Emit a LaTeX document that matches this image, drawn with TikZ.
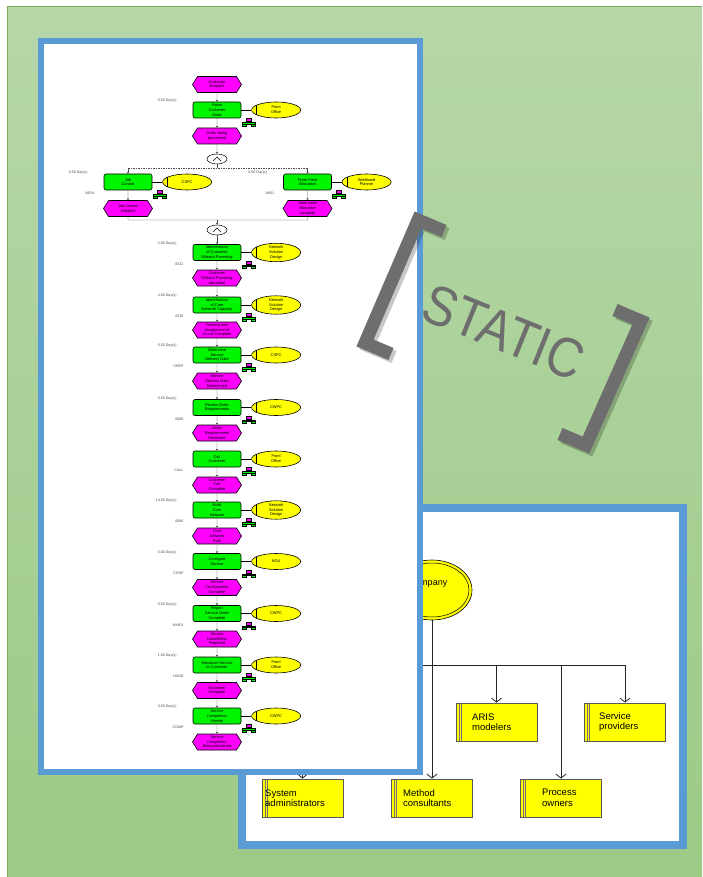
\documentclass[tikz,border=0pt]{standalone}
\usepackage{fontspec}
\setmainfont{Liberation Sans}
\usetikzlibrary{shapes.symbols,shapes.geometric,arrows.meta,calc}
\definecolor{bgtop}{HTML}{B6D7A8}
\definecolor{bgbot}{HTML}{9DCA87}
\definecolor{bgedge}{HTML}{78AD5C}
\definecolor{panelblue}{HTML}{5B9BD5}
\definecolor{evtc}{HTML}{FF00FF}
\definecolor{fnc}{HTML}{00F500}
\definecolor{orgy}{HTML}{FFFF00}
\definecolor{statgray}{HTML}{6E6E6E}
\tikzset{
 epctext/.style={font=\fontsize{3.9}{4.7}\selectfont},
 evt/.style={shape=signal, signal to=east and west, signal pointer angle=116, fill=evtc, draw=black, line width=0.6pt, minimum width=49pt, minimum height=16pt, inner sep=0pt, align=center, epctext},
 fn/.style={rectangle, rounded corners=2pt, fill=fnc, draw=black, line width=0.6pt, minimum width=48pt, minimum height=16pt, inner sep=0pt, align=center, epctext},
 orgunit/.style={ellipse, fill=orgy, draw=black, line width=0.6pt, minimum width=49pt, minimum height=16pt, inner sep=0pt, align=center, epctext,
   path picture={\draw[line width=0.5pt] ([xshift=5pt]path picture bounding box.north west) -- ([xshift=5pt]path picture bounding box.south west);}},
 gate/.style={ellipse, fill=white, draw=black, line width=0.5pt, minimum width=20pt, minimum height=10pt, inner sep=0pt},
 flow/.style={draw=gray!60!black, line width=0.4pt, -{Stealth[length=2pt,width=2.4pt]}},
 flowline/.style={draw=gray!60!black, line width=0.4pt},
 assign/.style={draw=black, line width=0.5pt},
 lbl/.style={font=\fontsize{3.6}{4.2}\selectfont, text=black!70, inner sep=0pt},
 obox/.style={rectangle, fill=orgy, draw=black!65, line width=0.8pt, minimum width=81pt, minimum height=38pt, inner sep=0pt,
   path picture={\draw[black!55, line width=0.4pt] ([xshift=3pt]path picture bounding box.north west) -- ([xshift=3pt]path picture bounding box.south west);
                 \draw[black!55, line width=0.4pt] ([xshift=4.8pt]path picture bounding box.north west) -- ([xshift=4.8pt]path picture bounding box.south west);}},
 otext/.style={font=\fontsize{9.5}{10.5}\selectfont, align=left, inner sep=0pt, anchor=west},
 oline/.style={draw=black!85, line width=0.8pt},
 oarrow/.style={draw=black!85, line width=0.8pt, -{Straight Barb[length=4pt,width=10pt,line width=0.8pt]}},
 orgicon/.pic={
   \draw[line width=0.3pt, fill=evtc] (4,0) rectangle (9,3);
   \draw[line width=0.3pt] (6.5,3) -- (6.5,4);
   \draw[line width=0.3pt, fill=fnc] (0,4) rectangle (13,5.5);
   \draw[line width=0.3pt, fill=fnc] (0,5.5) rectangle (4,7.5);
   \draw[line width=0.3pt, fill=fnc] (9,5.5) rectangle (13,7.5);
 }
}
\newcommand\epcfn[7]{%
 \node[fn] (#1) at (#2,#3) {#4};
 \node[orgunit, anchor=west] (#1o) at ($(#1.east)+(10,0)$) {#5};
 \draw[assign] (#1.east) -- (#1o.west);
 \pic at ([xshift=0.5pt]#1.south east) {orgicon};
 \node[lbl, anchor=east] (#1d) at ([xshift=-16pt,yshift=1pt]#1.north west) {#6};
 \node[lbl, anchor=east] (#1c) at ([xshift=-9pt,yshift=-3pt]#1.south west) {#7};
}
\begin{document}
\begin{tikzpicture}[x=1pt,y=-1pt]
\useasboundingbox (0,0) rectangle (702,877);
\fill[white] (0,0) rectangle (702,877);
% green background
\shade[top color=bgtop, bottom color=bgbot] (7,7) rectangle (702,877);
\draw[bgedge, line width=1pt] (7,877) -- (7,7) -- (702,7);

% ---------- right panel (org chart) ----------
\draw[panelblue, line width=8pt, fill=white] (242,508) rectangle (683,845);
\node[ellipse, fill=orgy, draw=black, line width=0.6pt, minimum width=80pt, minimum height=60pt, inner sep=0pt] (comp) at (432,590) {};
\draw[black, line width=0.5pt] (comp.center) ellipse (37 and 27);
\node[font=\fontsize{9}{10}\selectfont, inner sep=0pt] (compt) at (428,583) {Company};

\node[obox] (aris) at (496.5,722) {};
\node[obox] (serv) at (625,722) {};
\node[obox] (sys) at (302.5,798) {};
\node[obox] (meth) at (432,798) {};
\node[obox] (proc) at (561,798) {};
\node[otext] (arist) at (472,722) {ARIS\\modelers};
\node[otext] (servt) at (599,722) {Service\\providers};
\node[otext] (syst) at (265,798) {System\\administrators};
\node[otext] (metht) at (403,798) {Method\\consultants};
\node[otext] (proct) at (542,798) {Process\\owners};

\coordinate (hl) at (302.5,665);
\coordinate (ha) at (496.5,665);
\coordinate (hp) at (561,665);
\coordinate (hr) at (625,665);
\draw[oline] (hl) -- (hr);
\draw[oarrow] (comp.south) -- (meth.north);
\draw[oarrow] (hl) -- (sys.north);
\draw[oarrow] (ha) -- (aris.north);
\draw[oarrow] (hp) -- (proc.north);
\draw[oarrow] (hr) -- (serv.north);

% ---------- left panel (EPC) ----------
\draw[panelblue, line width=6pt, fill=white] (41,41) rectangle (420,772);

\node[evt] (e1) at (217,84.5) {Customer\\Request};
\epcfn{f1}{217}{110}{Raise\\Customer\\Order}{Front\\Office}{0.50 Day(s)}{}
\node[evt] (e2) at (217,136) {Order being\\processed};
\node[gate] (g1) at (217,159) {};
\draw[line width=0.5pt] (213,161) -- (217,157) -- (221,161);

\epcfn{fj}{128}{182}{Job\\Control}{CSPC}{0.50 Day(s)}{NJRA}
\epcfn{ft}{307.5}{182}{Tenor Point\\Allocation}{Wideband\\Planner}{0.50 Day(s)}{A801}
\node[evt] (ej) at (128,208.5) {Job Control\\Initiated};
\node[evt] (et) at (307.5,208.5) {Tenor point\\Allocation\\complete};

\node[gate] (g2) at (217,230) {};
\draw[line width=0.5pt] (213,232) -- (217,228) -- (221,232);

\epcfn{f2}{217}{252.5}{Identification\\of Customer\\W/band Parenting}{Network\\Solution\\Design}{2.00 Day(s)}{0532}
\node[evt] (e3) at (217,278) {Customer\\W/band Parenting\\Identified};
\epcfn{f3}{217}{305}{Identification\\of Core\\Network Capacity}{Network\\Solution\\Design}{4.00 Day(s)}{0536}
\node[evt] (e4) at (217,330) {Routing and\\Assignment of\\Circuit Complete};
\epcfn{f4}{217}{355}{Determine\\Service\\Delivery Date}{CSPC}{0.50 Day(s)}{CREP}
\node[evt] (e5) at (217,381) {Service\\Delivery Date\\Determined};
\epcfn{f5}{217}{407.5}{Review Order\\Requirements}{CWPC}{0.50 Day(s)}{0680}
\node[evt] (e6) at (217,433) {Order\\Requirements\\Reviewed};
\epcfn{f6}{217}{459}{Call\\Customer}{Front\\Office}{}{CALL}
\node[evt] (e7) at (217,485) {Customer\\Call\\Complete};
\epcfn{f7}{217}{510}{Build\\Core\\Network}{Network\\Solution\\Design}{14.00 Day(s)}{0680}
\node[evt] (e8) at (217,536) {Core\\Network\\Built};
\epcfn{f8}{217}{561.5}{Configure\\Service}{NOU}{3.00 Day(s)}{CONF}
\node[evt] (e9) at (217,587.5) {Service\\Configuration\\Complete};
\epcfn{f9}{217}{613.5}{Report\\Service Order\\Complete}{CWPC}{0.50 Day(s)}{WNEX}
\node[evt] (e10) at (217,639) {Service\\Completion\\Reported};
\epcfn{f10}{217}{665}{Handover Service\\to Customer}{Front\\Office}{1.00 Day(s)}{HAND}
\node[evt] (e11) at (217,690.5) {Handover\\Complete};
\epcfn{f11}{217}{716}{Service\\Completion\\Monitor}{CWPC}{0.50 Day(s)}{COMP}
\node[evt] (e12) at (217,742) {Service\\Completion\\Being Monitored};

% split / join
\coordinate (sl) at (128,168);
\coordinate (sm) at (217,168);
\coordinate (sr) at (307.5,168);
\coordinate (jl) at (128,220);
\coordinate (jm) at (217,220);
\coordinate (jr) at (307.5,220);

\draw[flow] (e1) -- (f1);
\draw[flow] (f1) -- (e2);
\draw[flow] (e2) -- (g1);
\draw[flowline] (g1) -- (sm);
\draw[flowline, dash pattern=on 1.5pt off 1pt] (sl) -- (sr);
\draw[flow] (sl) -- (fj);
\draw[flow] (sr) -- (ft);
\draw[flow] (fj) -- (ej);
\draw[flow] (ft) -- (et);
\draw[flowline] (ej) -- (jl) -- (jr) -- (et);
\draw[flow] (jm) -- (g2);
\draw[flow] (g2) -- (f2);
\draw[flow] (f2) -- (e3);
\draw[flow] (e3) -- (f3);
\draw[flow] (f3) -- (e4);
\draw[flow] (e4) -- (f4);
\draw[flow] (f4) -- (e5);
\draw[flow] (e5) -- (f5);
\draw[flow] (f5) -- (e6);
\draw[flow] (e6) -- (f6);
\draw[flow] (f6) -- (e7);
\draw[flow] (e7) -- (f7);
\draw[flow] (f7) -- (e8);
\draw[flow] (e8) -- (f8);
\draw[flow] (f8) -- (e9);
\draw[flow] (e9) -- (f9);
\draw[flow] (f9) -- (e10);
\draw[flow] (e10) -- (f10);
\draw[flow] (f10) -- (e11);
\draw[flow] (e11) -- (f11);
\draw[flow] (f11) -- (e12);

% ---------- STATIC stamp ----------
\begin{scope}[line width=13pt, miter limit=10]
\draw[black, opacity=0.22] (447,234) -- (421,223) -- (368,346) -- (394,357);
\draw[black, opacity=0.22] (618,313) -- (644,324) -- (589,448) -- (563,437);
\draw[statgray] (444,231) -- (418,220) -- (365,343) -- (391,354);
\draw[statgray] (615,310) -- (641,321) -- (586,445) -- (560,434);
\end{scope}
\node[rotate=-22, xscale=0.88, inner sep=0pt, font=\fontsize{56}{56}\selectfont, text=statgray] (stat) at (504,332) {STATIC};
\end{tikzpicture}
\end{document}
